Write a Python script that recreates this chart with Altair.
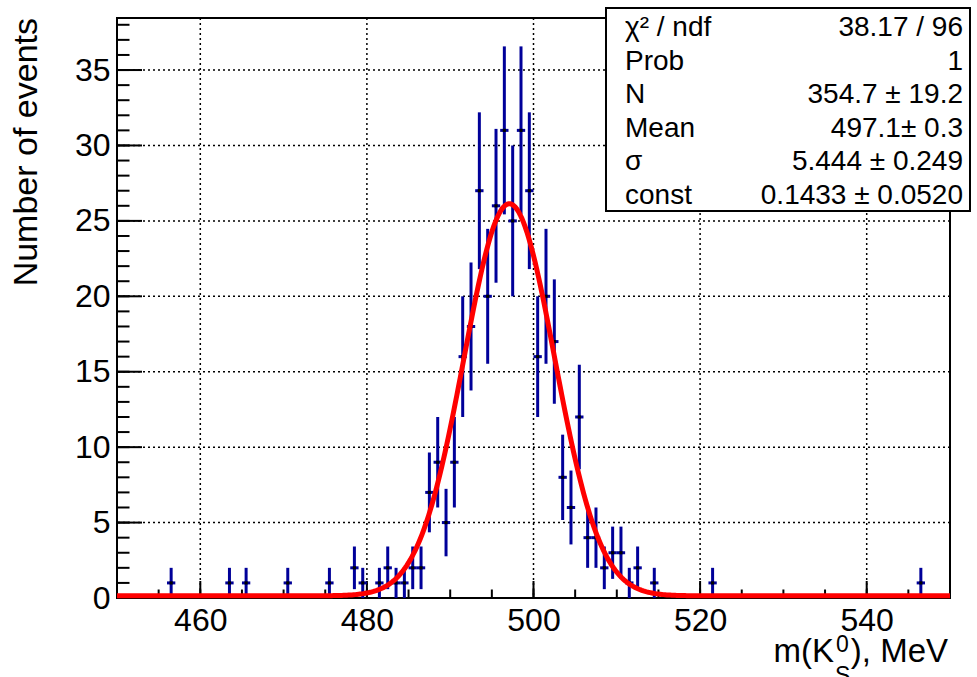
import altair as alt
import pandas as pd

# ---- data ----
bin_centers = [456.5, 463.5, 465.5, 470.5, 475.5, 478.5, 479.5, 481.5, 482.5, 483.5,
               484.5, 485.5, 486.5, 487.5, 488.5, 489.5, 490.5, 491.5, 492.5, 493.5,
               494.5, 495.5, 496.5, 497.5, 498.5, 499.5, 500.5, 501.5, 502.5, 503.5,
               504.5, 505.5, 506.5, 507.5, 508.5, 509.5, 510.5, 511.5, 512.5, 514.5,
               521.5, 546.5]
counts = [1, 1, 1, 1, 1, 2, 1, 1, 2, 1,
          1, 2, 2, 7, 9, 5, 9, 16, 18, 27,
          20, 26, 31, 25, 31, 27, 16, 20, 17, 8,
          6, 12, 4, 4, 2, 3, 3, 1, 2, 1,
          1, 1]
bin_width = 1.0

# fit parameters (gaus + const), as shown in the stat box
fit_N = 354.7
fit_mean = 497.1
fit_sigma = 5.444
fit_const = 0.1433

stat_labels = ["\u03c7\u00b2 / ndf", "Prob", "N", "Mean", "\u03c3", "const"]
stat_values = ["38.17 / 96", "1", "354.7 \u00b1 19.2", "497.1\u00b1 0.3",
               "5.444 \u00b1 0.249", "0.1433 \u00b1 0.0520"]

x_major = [460, 480, 500, 520, 540]
x_minor = list(range(450, 551, 5))
y_major = [0, 5, 10, 15, 20, 25, 30, 35]
y_minor = list(range(0, 39, 1))
x_grid = [460, 480, 500, 520, 540]
y_grid = [5, 10, 15, 20, 25, 30, 35]

X_DOMAIN = [450, 550]
Y_DOMAIN = [0, 38.45]

FONT = "Liberation Sans"
BLUE = "#000099"
W, H = 833, 580

hist = pd.DataFrame({"x": bin_centers, "n": counts})

xs = alt.Scale(domain=X_DOMAIN, nice=False, zero=False)
ys = alt.Scale(domain=Y_DOMAIN, nice=False)

# grid
gx = alt.Chart(pd.DataFrame({"g": x_grid})).mark_rule(
    color="black", strokeWidth=1.5, strokeDash=[2, 3]
).encode(x=alt.X("g:Q", scale=xs, axis=None))
gy = alt.Chart(pd.DataFrame({"g": y_grid})).mark_rule(
    color="black", strokeWidth=1.5, strokeDash=[2, 3]
).encode(y=alt.Y("g:Q", scale=ys, axis=None))

# inward-pointing ticks (ROOT style)
def xticks(vals, length):
    return alt.Chart(pd.DataFrame({"t": vals})).mark_rule(
        color="black", strokeWidth=2
    ).encode(x=alt.X("t:Q", scale=xs, axis=None),
             y=alt.value(H), y2=alt.value(H - length))

def yticks(vals, length):
    return alt.Chart(pd.DataFrame({"t": vals})).mark_rule(
        color="black", strokeWidth=2
    ).encode(y=alt.Y("t:Q", scale=ys, axis=None),
             x=alt.value(0), x2=alt.value(length))

tx_major = xticks(x_major, 17)
tx_minor = xticks(x_minor, 8.5)
ty_major = yticks(y_major, 25)
ty_minor = yticks(y_minor, 12.5)

base = alt.Chart(hist).transform_calculate(
    lo="datum.n - sqrt(datum.n)",
    hi="datum.n + sqrt(datum.n)",
    xl=f"datum.x - {bin_width / 2}",
    xr=f"datum.x + {bin_width / 2}",
)

ax_x = alt.Axis(orient="bottom", values=x_major, ticks=False, domain=False,
                grid=False, labelFontSize=32, labelFont=FONT, labelColor="black",
                labelPadding=7, title=None, format="d", labelFlush=False)
ax_y = alt.Axis(orient="left", values=y_major, ticks=False, domain=False,
                grid=False, labelFontSize=32, labelFont=FONT, labelColor="black",
                labelPadding=7, title=None, format="d", labelFlush=False)

vbars = base.mark_rule(color=BLUE, strokeWidth=3).encode(
    x=alt.X("x:Q", scale=xs, axis=ax_x),
    y=alt.Y("lo:Q", scale=ys, axis=ax_y),
    y2="hi:Q",
)
hbars = base.mark_rule(color=BLUE, strokeWidth=3).encode(
    x=alt.X("xl:Q", scale=xs, axis=None),
    x2="xr:Q",
    y=alt.Y("n:Q", scale=ys, axis=None),
)
markers = base.mark_square(color="black", size=10, opacity=1).encode(
    x=alt.X("x:Q", scale=xs, axis=None),
    y=alt.Y("n:Q", scale=ys, axis=None),
)

fit = alt.Chart(alt.sequence(450, 550.1, 0.2, as_="m")).transform_calculate(
    f=f"{fit_const} + {fit_N} * {bin_width} / (sqrt(2*PI) * {fit_sigma}) * "
      f"exp(-0.5 * pow((datum.m - {fit_mean}) / {fit_sigma}, 2))"
).mark_line(color="#ff0000", strokeWidth=5).encode(
    x=alt.X("m:Q", scale=xs, axis=None),
    y=alt.Y("f:Q", scale=ys, axis=None),
)

one = pd.DataFrame({"a": [0]})

box = alt.Chart(one).mark_rect(fill="white", stroke="black", strokeWidth=2).encode(
    x=alt.value(489), x2=alt.value(853), y=alt.value(-10), y2=alt.value(193)
)
box_labels = alt.Chart(one).mark_text(
    align="left", baseline="alphabetic", font=FONT, fontSize=28, color="black",
    lineHeight=33.6
).encode(x=alt.value(508), y=alt.value(18), text=alt.value(stat_labels))
box_values = alt.Chart(one).mark_text(
    align="right", baseline="alphabetic", font=FONT, fontSize=28, color="black",
    lineHeight=33.6
).encode(x=alt.value(846), y=alt.value(18), text=alt.value(stat_values))

ytitle = alt.Chart(one).mark_text(
    align="right", baseline="alphabetic", angle=270, font=FONT, fontSize=34,
    color="black"
).encode(x=alt.value(-80), y=alt.value(0), text=alt.value("Number of events"))

xt_main = alt.Chart(one).mark_text(
    align="right", baseline="alphabetic", font=FONT, fontSize=33, color="black"
).encode(x=alt.value(717), y=alt.value(643.7), text=alt.value("m(K"))
xt_sup = alt.Chart(one).mark_text(
    align="left", baseline="alphabetic", font=FONT, fontSize=23, color="black"
).encode(x=alt.value(719), y=alt.value(633.7), text=alt.value("0"))
xt_sub = alt.Chart(one).mark_text(
    align="left", baseline="alphabetic", font=FONT, fontSize=23, color="black"
).encode(x=alt.value(718), y=alt.value(665), text=alt.value("S"))
xt_end = alt.Chart(one).mark_text(
    align="right", baseline="alphabetic", font=FONT, fontSize=33, color="black"
).encode(x=alt.value(831), y=alt.value(643.7), text=alt.value("), MeV"))

chart = alt.layer(
    gx, gy, tx_minor, tx_major, ty_minor, ty_major,
    vbars, hbars, markers, fit, box, box_labels, box_values,
    ytitle, xt_main, xt_sup, xt_sub, xt_end
).resolve_axis(x="independent", y="independent").properties(
    width=W, height=H,
    autosize=alt.AutoSizeParams(type="none"),
    padding={"left": 117, "top": 18, "right": 27, "bottom": 79},
    background="white",
).configure_view(stroke="black", strokeWidth=2)

chart.save("out.html", embed_options={"renderer": "svg", "actions": False})
